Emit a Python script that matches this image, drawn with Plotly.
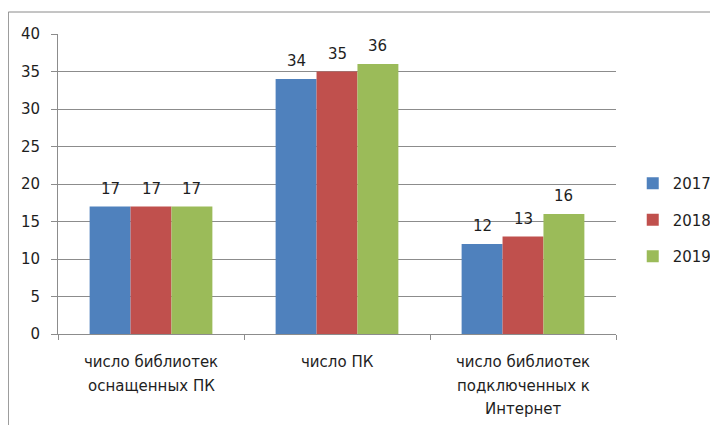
import plotly.graph_objects as go

categories = ["число библиотек оснащенных ПК", "число ПК", "число библиотек подключенных к Интернет"]
category_lines = [["число библиотек", "оснащенных ПК"], ["число ПК"], ["число библиотек", "подключенных к", "Интернет"]]
years = ["2017", "2018", "2019"]
values_2017 = [17, 34, 12]
values_2018 = [17, 35, 13]
values_2019 = [17, 36, 16]
series = [values_2017, values_2018, values_2019]
colors = ["#4F81BD", "#C0504D", "#9BBB59"]
y_ticks = [0, 5, 10, 15, 20, 25, 30, 35, 40]

FONT = "DejaVu Sans"
TXT = "#1e1e1e"
GRID = "#8c8c8c"

W, H = 710, 417
L, R, T, B = 50, 102, 26, 91
BARGAP = 0.34
plot_w = W - L - R
bar_w = plot_w / len(categories) * (1 - BARGAP) / len(years)

fig = go.Figure()
for i, (yr, vals, col) in enumerate(zip(years, series, colors)):
    fig.add_trace(go.Bar(
        x=categories, y=vals, name=yr, marker=dict(color=col, line=dict(width=0)),
        legendgroup=yr,
    ))

annotations = []
for cat, lines in zip(categories, category_lines):
    for j, ln in enumerate(lines):
        annotations.append(dict(
            x=cat, xref="x", y=0, yref="paper", yanchor="middle",
            yshift=-28 - 23.5 * j, text=ln, showarrow=False,
            font=dict(family=FONT, size=15, color=TXT),
        ))
for i, vals in enumerate(series):
    for cat, v in zip(categories, vals):
        annotations.append(dict(
            x=cat, xref="x", y=v, yref="y", yanchor="middle",
            xshift=(i - 1) * bar_w, yshift=18, text=str(v), showarrow=False,
            font=dict(family=FONT, size=15, color=TXT),
        ))

fig.update_layout(
    width=W, height=H,
    margin=dict(l=L, r=R, t=T, b=B, autoexpand=False),
    paper_bgcolor="white", plot_bgcolor="white",
    barmode="group", bargap=BARGAP, bargroupgap=0,
    font=dict(family=FONT, size=15, color=TXT),
    showlegend=True,
    legend=dict(x=1.03, y=0.38, xanchor="left", yanchor="middle",
                font=dict(family=FONT, size=15, color=TXT),
                itemwidth=30, borderwidth=0,
                tracegroupgap=14, bgcolor="rgba(0,0,0,0)"),
    annotations=annotations,
    shapes=[dict(type="rect", xref="paper", yref="paper",
                 x0=-0.089, x1=1.25, y0=-0.4, y1=1.0733,
                 line=dict(color="#8a8a8a", width=1), layer="below")],
)
fig.update_yaxes(range=[0, 40], tickvals=y_ticks, showgrid=True, gridcolor=GRID,
                 gridwidth=1, showline=True, linecolor=GRID, linewidth=1,
                 ticks="outside", ticklen=6, tickcolor=GRID, zeroline=False,
                 ticklabelstandoff=8,
                 tickfont=dict(family=FONT, size=15, color=TXT))
fig.update_xaxes(showticklabels=False, showline=True, linecolor=GRID, linewidth=1,
                 ticks="outside", ticklen=5, tickcolor=GRID, tickson="boundaries",
                 showgrid=False)

fig.write_html("out.html")
